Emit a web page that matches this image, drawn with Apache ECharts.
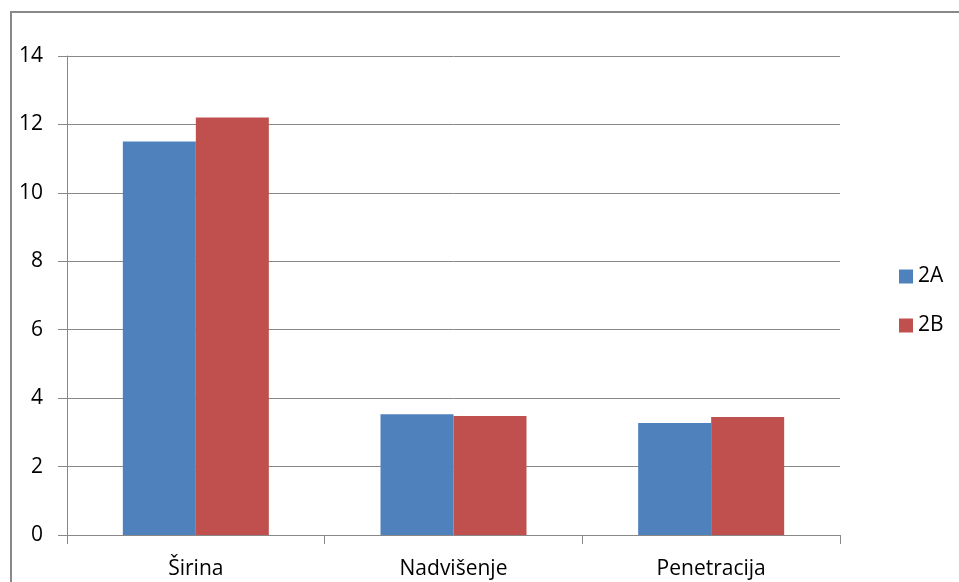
<!DOCTYPE html>
<html>
<head>
<meta charset="utf-8">
<script src="https://cdn.jsdelivr.net/npm/echarts@6/dist/echarts.min.js"></script>
<style>
  html, body { margin: 0; padding: 0; background: #ffffff; }
  #chart { width: 959px; height: 582px; }
</style>
</head>
<body>
<div id="chart"></div>
<script>
// podaci očitani s grafa
var categories = ['Širina', 'Nadvišenje', 'Penetracija'];
var seriesNames = ['2A', '2B'];
var values2A = [11.5, 3.53, 3.27];
var values2B = [12.2, 3.48, 3.45];
var yTicks = { min: 0, max: 14, interval: 2 };

var chart = echarts.init(document.getElementById('chart'));
var font = 'Open Sans';

var option = {
  animation: false,
  color: ['#4F81BD', '#C0504D'],
  graphic: [{
    // vanjski okvir grafikona
    type: 'rect',
    shape: { x: 11, y: 12, width: 1000, height: 700 },
    style: { fill: 'none', stroke: '#888888', lineWidth: 2 },
    silent: true
  }],
  grid: { left: 67, right: 119, top: 56, bottom: 47 },
  legend: {
    orient: 'vertical',
    left: 894,
    top: 261,
    itemWidth: 14,
    itemHeight: 14,
    itemGap: 28,
    icon: 'rect',
    textStyle: { fontFamily: font, fontSize: 21, color: '#000' },
    data: seriesNames
  },
  xAxis: {
    type: 'category',
    data: categories,
    axisLine: { lineStyle: { color: '#888888', width: 1 } },
    axisTick: { show: true, length: 9, alignWithLabel: false, lineStyle: { color: '#888888' } },
    axisLabel: { fontFamily: font, fontSize: 21, color: '#000', margin: 24 }
  },
  yAxis: {
    type: 'value',
    min: yTicks.min,
    max: yTicks.max,
    interval: yTicks.interval,
    axisLine: { show: true, lineStyle: { color: '#888888', width: 1 } },
    axisTick: { show: true, length: 9, lineStyle: { color: '#888888' } },
    splitLine: { lineStyle: { color: '#888888', width: 1 } },
    axisLabel: { fontFamily: font, fontSize: 21, color: '#000', margin: 24 }
  },
  series: [
    { name: seriesNames[0], type: 'bar', data: values2A, barWidth: 73, barGap: '0%' },
    { name: seriesNames[1], type: 'bar', data: values2B, barWidth: 73, barGap: '0%' }
  ]
};

chart.setOption(option);
</script>
</body>
</html>
